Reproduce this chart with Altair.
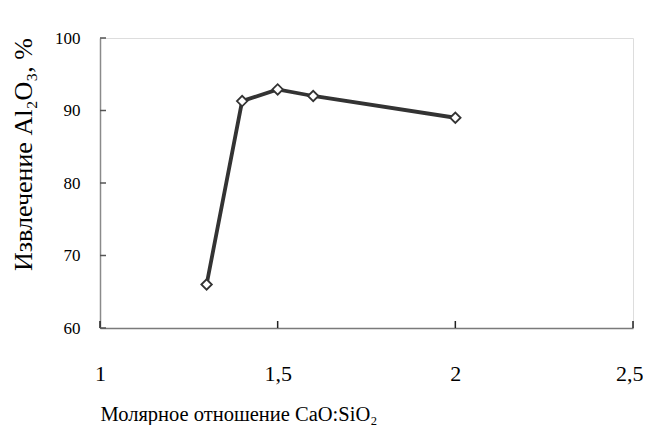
import altair as alt
import pandas as pd

ratio = [1.3, 1.4, 1.5, 1.6, 2.0]
extraction = [66.0, 91.3, 92.9, 92.0, 89.0]
x_ticks = [1.0, 1.5, 2.0, 2.5]
y_ticks = [60, 70, 80, 90, 100]

W, H = 533, 290
FONT = "Liberation Serif"

df = pd.DataFrame({"x": ratio, "y": extraction})
dfx = pd.DataFrame({"x": x_ticks})
dfy = pd.DataFrame({"y": y_ticks})

xscale = alt.Scale(domain=[1, 2.5], nice=False, zero=False)
yscale = alt.Scale(domain=[60, 100], nice=False, zero=False)

xaxis = alt.Axis(
    values=x_ticks, ticks=False, grid=False,
    labelExpr="replace(format(datum.value, '~g'), '.', ',')",
    labelFont=FONT, labelFontSize=22, labelColor="#000", labelPadding=35,
    labelFlush=False,
    labelAlign={"condition": {"test": "datum.value >= 2.5", "value": "right"}, "value": "center"},
    labelOffset={"condition": {"test": "datum.value >= 2.5", "value": 10}, "value": 0},
    domainColor="#7a7a7a", domainWidth=1.5,
    title="Молярное отношение CaO:SiO₂",
    titleFont=FONT, titleFontSize=20.5, titleFontWeight="normal", titleColor="#000",
    titleAnchor="start", titleAlign="left", titleX=0, titleY=92,
    titleBaseline="alphabetic",
)
yaxis = alt.Axis(
    values=y_ticks, ticks=False, grid=False,
    labelFont=FONT, labelFontSize=17, labelColor="#000", labelPadding=20,
    domainColor="#8a8a8a", domainWidth=1.5,
    title="Извлечение Al₂O₃, %",
    titleFont=FONT, titleFontSize=26, titleFontWeight="normal", titleColor="#000",
    titleAngle=-90, titleX=-69, titleY=116, titleAlign="center",
    titleBaseline="alphabetic",
)

line = alt.Chart(df).mark_line(color="#333333", strokeWidth=3.8).encode(
    x=alt.X("x:Q", scale=xscale, axis=xaxis),
    y=alt.Y("y:Q", scale=yscale, axis=yaxis),
)
pts = alt.Chart(df).mark_point(
    shape="diamond", filled=True, fill="white", stroke="#333333",
    strokeWidth=1.8, size=110, opacity=1,
).encode(x="x:Q", y="y:Q")

xt = alt.Chart(dfx).mark_rule(color="#222222", strokeWidth=1.5).encode(
    x="x:Q", y=alt.value(H - 7), y2=alt.value(H)
)
yt = alt.Chart(dfy).mark_rule(color="#555555", strokeWidth=1.5).encode(
    y="y:Q", x=alt.value(0), x2=alt.value(6)
)

chart = alt.layer(line, xt, yt, pts).properties(
    width=W, height=H,
    autosize=alt.AutoSizeParams(type="none"),
    padding={"left": 92, "top": 30, "right": 10, "bottom": 97},
).configure_view(stroke=None).configure(background="white")

chart.save("out.html", embed_options={"renderer": "svg", "actions": False})
